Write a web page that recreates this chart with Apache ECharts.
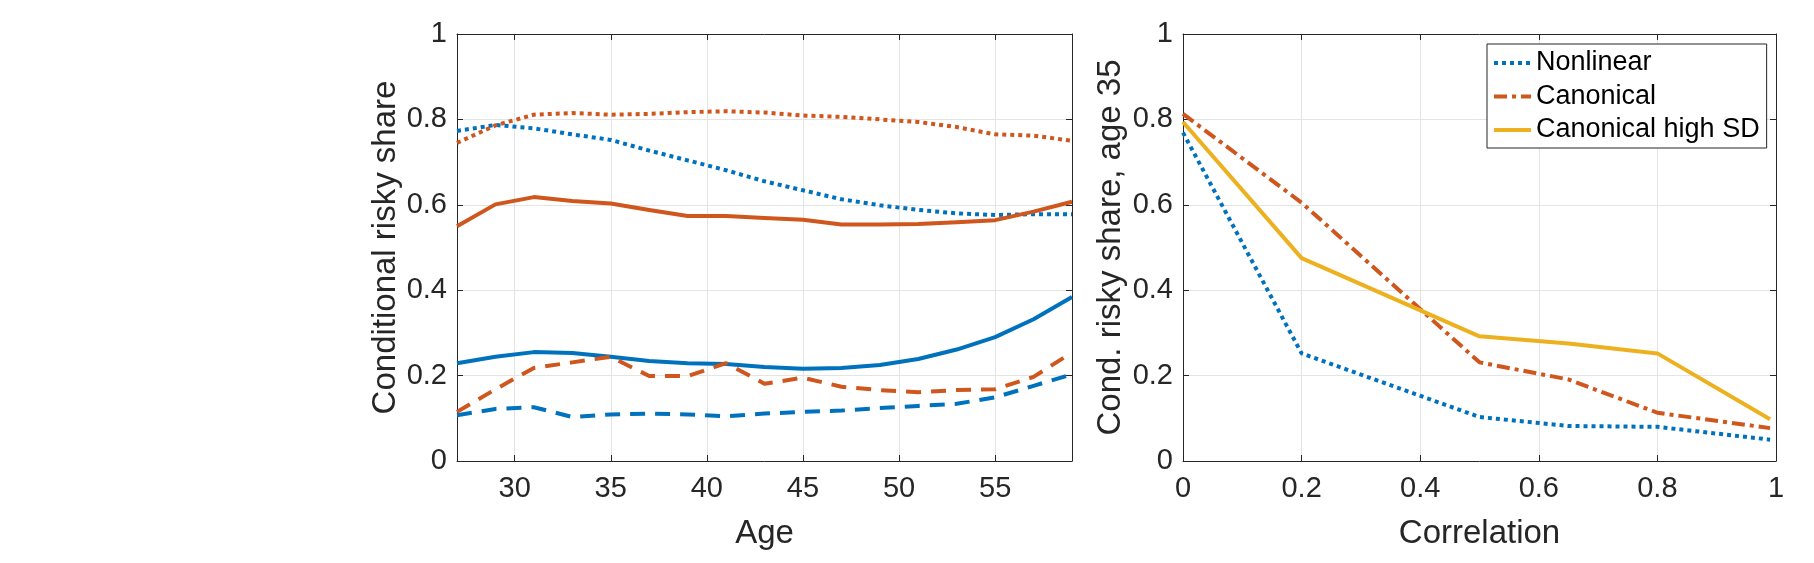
<!DOCTYPE html>
<html>
<head>
<meta charset="utf-8">
<script src="https://cdn.jsdelivr.net/npm/echarts@6/dist/echarts.min.js"></script>
<style>
  html, body { margin: 0; padding: 0; background: #fff; }
  #chart { width: 1814px; height: 563px; }
</style>
</head>
<body>
<div id="chart"></div>
<script>
// left panel: share by age
const ages = [27, 29, 31, 33, 35, 37, 39, 41, 43, 45, 47, 49, 51, 53, 55, 57, 59];
const canDotted = [0.745, 0.786, 0.811, 0.815, 0.811, 0.813, 0.817, 0.819, 0.816, 0.809, 0.806, 0.800, 0.794, 0.782, 0.765, 0.762, 0.750];
const nlDotted = [0.773, 0.787, 0.779, 0.765, 0.752, 0.727, 0.704, 0.681, 0.655, 0.634, 0.613, 0.599, 0.588, 0.580, 0.576, 0.578, 0.578];
const canSolid = [0.550, 0.601, 0.618, 0.609, 0.603, 0.588, 0.574, 0.574, 0.569, 0.565, 0.554, 0.554, 0.555, 0.559, 0.564, 0.584, 0.607];
const nlSolid = [0.229, 0.244, 0.255, 0.253, 0.244, 0.234, 0.229, 0.227, 0.220, 0.216, 0.218, 0.225, 0.239, 0.261, 0.290, 0.332, 0.384];
const canDashed = [0.115, 0.168, 0.218, 0.231, 0.244, 0.199, 0.199, 0.229, 0.181, 0.195, 0.174, 0.166, 0.161, 0.166, 0.168, 0.197, 0.254];
const nlDashed = [0.107, 0.122, 0.126, 0.103, 0.109, 0.111, 0.109, 0.105, 0.111, 0.115, 0.118, 0.124, 0.129, 0.134, 0.149, 0.176, 0.203];

// right panel: share at age 35 by correlation
const corr = [0, 0.2, 0.5, 0.65, 0.8, 0.99];
const nonlinear = [0.769, 0.252, 0.103, 0.082, 0.080, 0.050];
const canonical = [0.813, 0.605, 0.231, 0.191, 0.113, 0.077];
const canonicalHighSD = [0.794, 0.475, 0.292, 0.275, 0.252, 0.098];

const BLUE = "#0072BD";
const ORANGE = "#CF561C";
const YELLOW = "#EDB120";
const INK = "#262626";
const FONT = "'Liberation Sans', Arial, Helvetica, sans-serif";

const DOT = [4, 4];
const DASH = [15, 10];
const DASHDOT = [13, 5, 4, 5];

const pairs = (xs, ys) => xs.map((x, i) => [x, ys[i]]);

const chart = echarts.init(document.getElementById("chart"), null, { renderer: "canvas" });

const mainX = (gridIndex, min, max, name, extra) => Object.assign({
  gridIndex: gridIndex,
  type: "value",
  position: "bottom",
  min: min,
  max: max,
  name: name,
  nameLocation: "middle",
  nameGap: 56,
  nameTextStyle: { fontSize: 33, color: INK, fontFamily: FONT },
  axisLine: { show: true, onZero: false, lineStyle: { color: INK, width: 1 } },
  axisTick: { show: true, inside: true, length: 6, lineStyle: { color: INK } },
  axisLabel: { fontSize: 29, color: INK, fontFamily: FONT, margin: 13 },
  splitLine: { show: true, lineStyle: { color: "#e4e4e4", width: 1 } },
}, extra || {});

const mirrorX = (gridIndex, min, max, extra) => Object.assign({
  gridIndex: gridIndex,
  type: "value",
  position: "top",
  min: min,
  max: max,
  axisLine: { show: true, onZero: false, lineStyle: { color: INK, width: 1 } },
  axisTick: { show: true, inside: true, length: 6, lineStyle: { color: INK } },
  axisLabel: { show: false },
  splitLine: { show: false },
}, extra || {});

const mainY = (gridIndex, name, gap) => ({
  gridIndex: gridIndex,
  type: "value",
  position: "left",
  min: 0,
  max: 1,
  interval: 0.2,
  name: name,
  nameLocation: "middle",
  nameGap: gap,
  nameTextStyle: { fontSize: 33, color: INK, fontFamily: FONT },
  axisLine: { show: true, onZero: false, lineStyle: { color: INK, width: 1 } },
  axisTick: { show: true, inside: true, length: 6, lineStyle: { color: INK } },
  axisLabel: { fontSize: 29, color: INK, fontFamily: FONT, margin: 10 },
  splitLine: { show: true, lineStyle: { color: "#e4e4e4", width: 1 } },
});

const mirrorY = (gridIndex) => ({
  gridIndex: gridIndex,
  type: "value",
  position: "right",
  min: 0,
  max: 1,
  interval: 0.2,
  axisLine: { show: true, onZero: false, lineStyle: { color: INK, width: 1 } },
  axisTick: { show: true, inside: true, length: 6, lineStyle: { color: INK } },
  axisLabel: { show: false },
  splitLine: { show: false },
});

const ageLabels = {
  showMinLabel: false,
  showMaxLabel: false,
  formatter: (v) => (v % 5 === 0 ? String(v) : ""),
};

const line = (name, xi, yi, data, color, type, z) => ({
  name: name,
  type: "line",
  xAxisIndex: xi,
  yAxisIndex: yi,
  data: data,
  symbol: "none",
  showSymbol: false,
  smooth: false,
  z: z || 2,
  lineStyle: { color: color, width: 4, type: type, cap: "butt", join: "round" },
  itemStyle: { color: color },
  emphasis: { disabled: true },
});

const option = {
  animation: false,
  backgroundColor: "#fff",
  textStyle: { fontFamily: FONT },
  grid: [
    { left: 457, top: 34, width: 615, height: 427, containLabel: false },
    { left: 1183, top: 34, width: 593, height: 427, containLabel: false },
  ],
  xAxis: [
    mainX(0, 27, 59, "Age", { splitNumber: 6 }),
    mirrorX(0, 27, 59, { splitNumber: 6 }),
    mainX(1, 0, 1, "Correlation", { interval: 0.2 }),
    mirrorX(1, 0, 1, { interval: 0.2 }),
  ],
  yAxis: [
    mainY(0, "Conditional risky share", 55),
    mirrorY(0),
    mainY(1, "Cond. risky share, age 35", 56),
    mirrorY(1),
  ],
  legend: {
    data: ["Nonlinear", "Canonical", "Canonical high SD"],
    orient: "vertical",
    left: 1487,
    top: 44,
    padding: [4, 7, 3, 5],
    itemWidth: 37,
    itemHeight: 14,
    itemGap: 3.5,
    borderColor: INK,
    borderWidth: 1,
    borderRadius: 0,
    backgroundColor: "#fff",
    itemStyle: { color: "rgba(0,0,0,0)", borderColor: "rgba(0,0,0,0)", borderWidth: 0, opacity: 0 },
    lineStyle: { width: 4, type: "inherit", opacity: 1 },
    textStyle: { fontSize: 27, color: "#000", fontFamily: FONT, lineHeight: 30 },
    selectedMode: false,
  },
  series: [
    line("nl dotted", 0, 0, pairs(ages, nlDotted), BLUE, DOT),
    line("can dotted", 0, 0, pairs(ages, canDotted), ORANGE, DOT),
    line("nl solid", 0, 0, pairs(ages, nlSolid), BLUE, "solid"),
    line("can solid", 0, 0, pairs(ages, canSolid), ORANGE, "solid"),
    line("nl dashed", 0, 0, pairs(ages, nlDashed), BLUE, DASH),
    line("can dashed", 0, 0, pairs(ages, canDashed), ORANGE, DASH),
    line("Nonlinear", 2, 2, pairs(corr, nonlinear), BLUE, DOT),
    line("Canonical", 2, 2, pairs(corr, canonical), ORANGE, DASHDOT),
    line("Canonical high SD", 2, 2, pairs(corr, canonicalHighSD), YELLOW, "solid"),
  ],
};

option.xAxis[0].axisLabel = Object.assign({}, option.xAxis[0].axisLabel, ageLabels);

chart.setOption(option);
</script>
</body>
</html>
